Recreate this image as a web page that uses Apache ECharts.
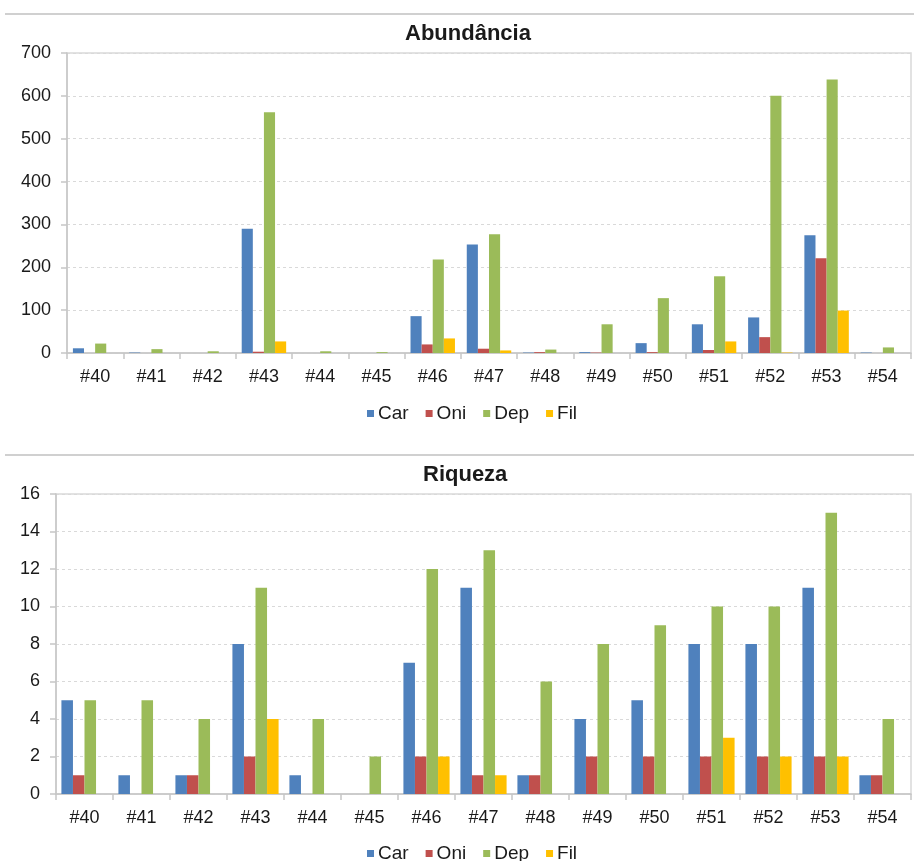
<!DOCTYPE html>
<html>
<head>
<meta charset="utf-8">
<script src="https://cdn.jsdelivr.net/npm/echarts@6/dist/echarts.min.js"></script>
<style>
  html, body { margin: 0; padding: 0; background: #fff; }
  #chart { width: 914px; height: 861px; }
</style>
</head>
<body>
<div id="chart"></div>
<script>
// Sampling points shared by both panels
const categories = ['#40', '#41', '#42', '#43', '#44', '#45', '#46', '#47', '#48', '#49', '#50', '#51', '#52', '#53', '#54'];
const groupNames = ['Car', 'Oni', 'Dep', 'Fil'];

// Abundância (number of individuals) per group
const abundCar = [11, 1, 0, 290, 0, 0, 86, 253, 1, 2, 23, 67, 83, 275, 1];
const abundOni = [0, 0, 0, 3, 0, 0, 20, 10, 2, 1, 2, 7, 37, 221, 0];
const abundDep = [22, 9, 4, 562, 4, 2, 218, 277, 8, 67, 128, 179, 600, 638, 13];
const abundFil = [0, 0, 0, 27, 0, 0, 34, 6, 0, 0, 0, 27, 1, 99, 0];

// Riqueza (number of taxa) per group
const riqCar = [5, 1, 1, 8, 1, 0, 7, 11, 1, 4, 5, 8, 8, 11, 1];
const riqOni = [1, 0, 1, 2, 0, 0, 2, 1, 1, 2, 2, 2, 2, 2, 1];
const riqDep = [5, 5, 4, 11, 4, 2, 12, 13, 6, 8, 9, 10, 10, 15, 4];
const riqFil = [0, 0, 0, 4, 0, 0, 2, 1, 0, 0, 0, 3, 2, 2, 0];

// Axis tick ranges
const abundAxis = { min: 0, max: 700, interval: 100 };
const riqAxis = { min: 0, max: 16, interval: 2 };

const colors = ['#4F81BD', '#C0504D', '#9BBB59', '#FFC000'];
const FONT = '"Liberation Sans", Arial, sans-serif';
const TEXT = '#1a1a1a';

const chart = echarts.init(document.getElementById('chart'), null, { renderer: 'canvas' });

function xAxisCfg(gridIndex) {
  return {
    type: 'category',
    gridIndex,
    data: categories,
    axisLine: { lineStyle: { color: '#c6c6c6', width: 1.5 } },
    axisTick: { show: true, length: 6, alignWithLabel: false, lineStyle: { color: '#c6c6c6', width: 1.5 } },
    axisLabel: { color: TEXT, fontSize: 18, fontFamily: FONT, margin: 15 },
    splitLine: { show: false }
  };
}

function yAxisCfg(gridIndex, range) {
  return {
    type: 'value',
    gridIndex,
    min: range.min,
    max: range.max,
    interval: range.interval,
    axisLine: { show: true, lineStyle: { color: '#c6c6c6', width: 1.5 } },
    axisTick: { show: true, length: 6, lineStyle: { color: '#c6c6c6', width: 1.5 } },
    axisLabel: { color: TEXT, fontSize: 18, fontFamily: FONT, margin: 16 },
    splitLine: { show: true, lineStyle: { color: '#d9d9d9', type: [3, 3], width: 1 } }
  };
}

function barSeries(name, data, idx, axisIndex) {
  return {
    name,
    type: 'bar',
    xAxisIndex: axisIndex,
    yAxisIndex: axisIndex,
    data,
    barGap: '0%',
    barCategoryGap: axisIndex === 0 ? '21%' : '19%',
    itemStyle: { color: colors[idx] },
    emphasis: { disabled: true },
    animation: false
  };
}

const legendCommon = {
  data: groupNames,
  icon: 'rect',
  itemWidth: 7,
  itemHeight: 7,
  itemGap: 17,
  left: 362,
  textStyle: { color: TEXT, fontSize: 19, fontFamily: FONT, padding: [0, 0, 0, -1] }
};

const option = {
  animation: false,
  color: colors,
  title: [
    { text: 'Abundância', left: 400, top: 18,
      textStyle: { fontSize: 22, fontWeight: 'bold', color: TEXT, fontFamily: FONT } },
    { text: 'Riqueza', left: 418, top: 459,
      textStyle: { fontSize: 22, fontWeight: 'bold', color: TEXT, fontFamily: FONT } }
  ],
  legend: [
    Object.assign({}, legendCommon, { top: 399 }),
    Object.assign({}, legendCommon, { top: 839 })
  ],
  grid: [
    { left: 67, right: 3, top: 53, height: 300, show: true, borderColor: '#d9d9d9', borderWidth: 1.5 },
    { left: 56, right: 3, top: 494, height: 300, show: true, borderColor: '#d9d9d9', borderWidth: 1.5 }
  ],
  xAxis: [xAxisCfg(0), xAxisCfg(1)],
  yAxis: [yAxisCfg(0, abundAxis), yAxisCfg(1, riqAxis)],
  graphic: [
    { type: 'line', shape: { x1: 5, y1: 14, x2: 914, y2: 14 }, style: { stroke: '#d0d0d0', lineWidth: 2 } },
    { type: 'line', shape: { x1: 5, y1: 455, x2: 914, y2: 455 }, style: { stroke: '#d0d0d0', lineWidth: 2 } }
  ],
  series: [
    barSeries('Car', abundCar, 0, 0),
    barSeries('Oni', abundOni, 1, 0),
    barSeries('Dep', abundDep, 2, 0),
    barSeries('Fil', abundFil, 3, 0),
    barSeries('Car', riqCar, 0, 1),
    barSeries('Oni', riqOni, 1, 1),
    barSeries('Dep', riqDep, 2, 1),
    barSeries('Fil', riqFil, 3, 1)
  ]
};

chart.setOption(option);
</script>
</body>
</html>
